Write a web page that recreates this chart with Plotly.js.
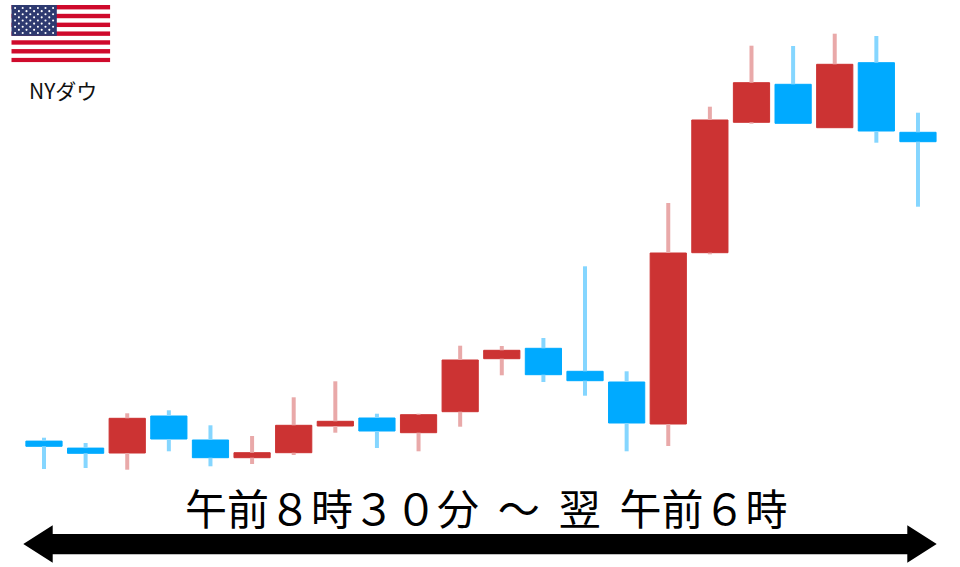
<!DOCTYPE html>
<html><head><meta charset="utf-8">
<script src="https://cdn.plot.ly/plotly-3.0.1.min.js"></script>
<style>html,body{margin:0;padding:0;background:#fff}#c{width:960px;height:567px}</style>
</head><body><div id="c"></div>
<script>
var sessions=[0,1,2,3,4,5,6,7,8,9,10,11,12,13,14,15,16,17,18,19,20,21];
var opens =[125.9,118.9,114,151,127,109.3,114.3,141,149,134.3,155.3,208.3,218.7,195.7,185,143,314.3,444.7,482.7,439.3,504.3,434.7];
var closes=[120.7,113.7,148.7,128,109.3,114.3,141.7,145.7,136,152.3,207,216.7,192.3,186.3,144,314,447,484.3,443.7,502.7,436,425.3];
var highs =[129.3,124,153.7,156.7,141.7,131,169.7,185.7,153.3,153.3,221.3,221,229,300.7,195.7,364,460.3,521.3,521,533.3,531,454.3];
var lows  =[98,99,97.3,115.7,100.7,103,112,134.3,119,115.7,140.3,191.7,185,171.3,115.7,121,312.7,443.3,443.7,439.3,424.3,360.3];
var title='午前８時３０分\u00A0\u00A0～\u00A0\u00A0翌\u00A0\u00A0午前６時';
var name_='NYダウ';

var RED='#CC3333',BLUE='#00AAFF',RED_W='#E9A9A9',BLUE_W='#85D6FF';
var bodyHi=opens.map(function(o,i){return Math.max(o,closes[i]);});
var bodyLo=opens.map(function(o,i){return Math.min(o,closes[i]);});
function wicks(up,color){
  var xs=[],ys=[];
  sessions.forEach(function(x,i){
    if((closes[i]>=opens[i])!==up) return;
    xs.push(x,x,null,x,x,null);
    ys.push(highs[i],bodyHi[i],null,bodyLo[i],lows[i],null);
  });
  return {type:'scatter',mode:'lines',x:xs,y:ys,line:{color:color,width:4},hoverinfo:'skip',showlegend:false,connectgaps:false};
}
var traces=[
  wicks(true,RED_W),wicks(false,BLUE_W),
  {type:'candlestick',x:sessions,open:opens,close:closes,high:bodyHi,low:bodyLo,whiskerwidth:0,
   increasing:{line:{color:RED,width:1},fillcolor:RED},decreasing:{line:{color:BLUE,width:1},fillcolor:BLUE},hoverinfo:'skip',showlegend:false}
];

// flag
var s='<svg xmlns="http://www.w3.org/2000/svg" width="297" height="171" viewBox="0 0 99 57"><rect width="99" height="57" fill="#fff"/>';
for(var k=0;k<13;k+=2){s+='<rect y="'+(k*57/13)+'" width="99" height="'+(57/13)+'" fill="#CF0A2C"/>';}
s+='<rect width="45.5" height="30.7" fill="#2E3A70"/>';
for(var r=0;r<9;r++){var n=r%2?5:6;for(var q=0;q<n;q++){s+='<circle cx="'+(3.8+q*7.6+(r%2?3.8:0))+'" cy="'+(3+r*3.1)+'" r="1.05" fill="#fff"/>';}}
s+='</svg>';
function P(px,py){return (px/960).toFixed(5)+' '+(1-py/567).toFixed(5);}
var arrow=[[23.3,544],[52.7,525.3],[52.7,534],[907.3,534],[907.3,525.3],[936.7,544],[907.3,562.7],[907.3,554.2],[52.7,554.2],[52.7,562.7]];
var layout={width:960,height:567,margin:{l:0,r:0,t:0,b:0},paper_bgcolor:'#fff',plot_bgcolor:'#fff',showlegend:false,
  boxmode:'overlay',boxgap:0.13,boxgroupgap:0,
  xaxis:{range:[-1.057,22.01],visible:false,rangeslider:{visible:false},fixedrange:true},
  yaxis:{range:[0,567],visible:false,fixedrange:true},
  images:[{source:'data:image/svg+xml;charset=utf-8,'+encodeURIComponent(s),xref:'paper',yref:'paper',x:11.3/960,y:1-5/567,sizex:99/960,sizey:57.3/567,xanchor:'left',yanchor:'top',sizing:'stretch',layer:'above'}],
  shapes:[{type:'path',xref:'paper',yref:'paper',path:'M'+arrow.map(function(a){return P(a[0],a[1]);}).join(' L')+' Z',fillcolor:'#000',line:{width:0}}],
  annotations:[
   {xref:'paper',yref:'paper',x:486/960,y:1-506/567,text:title,showarrow:false,xanchor:'center',yanchor:'middle',font:{family:'"Noto Sans CJK JP"',size:42,color:'#000'}},
   {xref:'paper',yref:'paper',x:62.5/960,y:1-90/567,text:name_,showarrow:false,xanchor:'center',yanchor:'middle',font:{family:'"Noto Sans CJK JP"',size:21,color:'#111'}}
  ]};
Plotly.newPlot('c',traces,layout,{displayModeBar:false,staticPlot:true});
</script></body></html>
